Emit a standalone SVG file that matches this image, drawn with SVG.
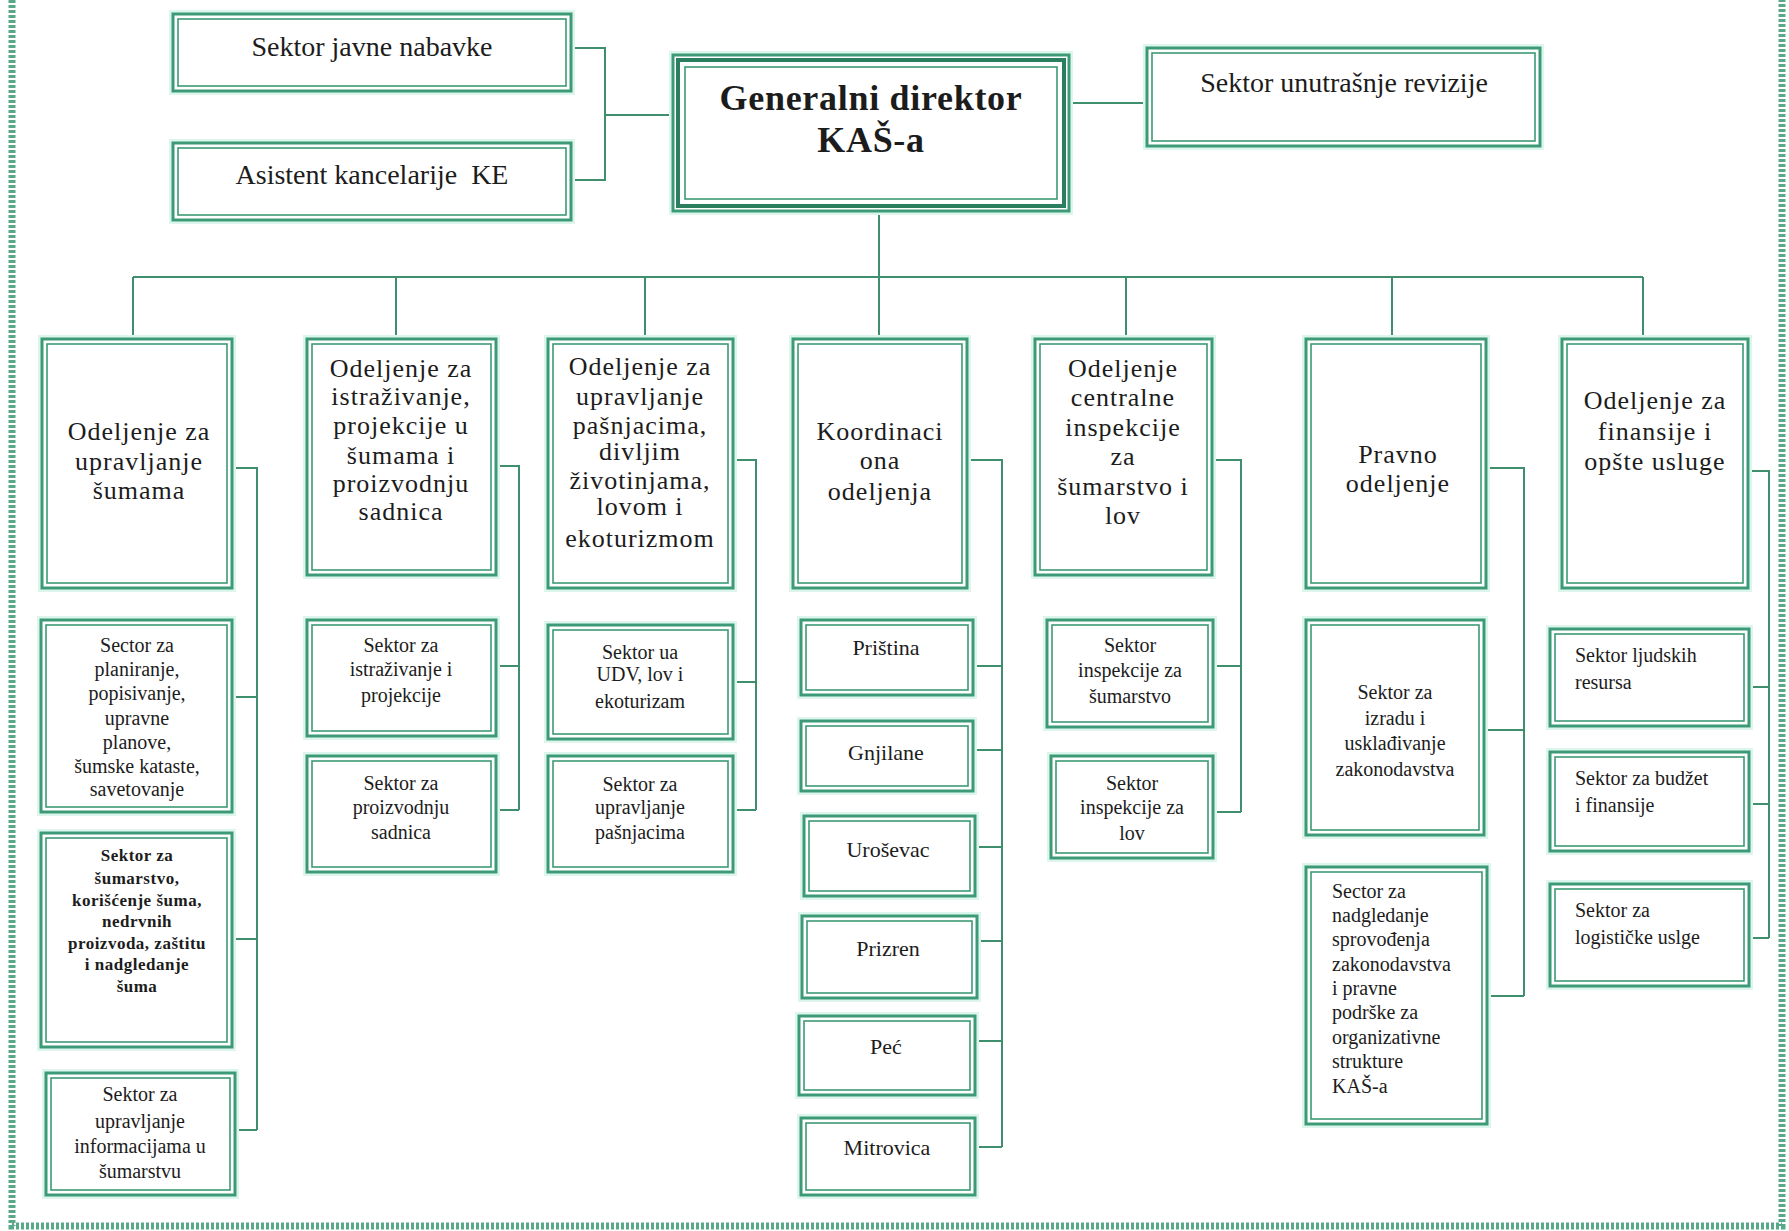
<svg xmlns="http://www.w3.org/2000/svg" width="1789" height="1231" viewBox="0 0 1789 1231">
<style>
.bg{fill:#ffffff}
.frame{fill:none;stroke:#5aa88a;stroke-width:7;stroke-dasharray:3 2}
.g{fill:none;stroke:#dcf6ee;stroke-width:8}
.o{fill:#ffffff;stroke:#3d9a76;stroke-width:3}
.i{fill:none;stroke:#3d9a76;stroke-width:1.6}
.m{fill:none;stroke:#2c7f5e;stroke-width:4}
.c{fill:none;stroke:#3f8f6f;stroke-width:2}
text{font-family:"Liberation Serif","Times New Roman",serif;fill:#1c1c1c;text-anchor:middle}
.t1{font-size:28px}
.t0{font-size:36px;font-weight:bold;letter-spacing:0.7px}
.t2{font-size:26px;letter-spacing:1px}
.t3{font-size:20px}
.t4{font-size:17px;font-weight:bold;letter-spacing:0.5px}
.t5{font-size:22px}
.l{text-anchor:start}
</style>
<rect class="bg" x="0" y="0" width="1789" height="1231"/>
<path class="frame" d="M12,0V1226H1782V0"/>

<g id="connectors">
<path class="c" d="M571,48H605V180H571M605,115H673"/>
<path class="c" d="M1069,103H1147"/>
<path class="c" d="M879,211V277M133,277H1643M133,277V339M396,277V339M645,277V339M879,277V339M1126,277V339M1392,277V339M1643,277V339"/>
<path class="c" d="M232,468H257V1130M232,697H257M232,939H257M235,1130H257"/>
<path class="c" d="M496,466H519V810M496,666H519M496,810H519"/>
<path class="c" d="M733,460H756V810M733,682H756M733,810H756"/>
<path class="c" d="M967,460H1002V1147M973,666H1002M973,750H1002M975,847H1002M977,941H1002M975,1041H1002M975,1147H1002"/>
<path class="c" d="M1212,460H1241V812M1213,666H1241M1213,812H1241"/>
<path class="c" d="M1486,468H1524V996M1484,730H1524M1487,996H1524"/>
<path class="c" d="M1748,471H1769V938M1749,687H1769M1749,804H1769M1749,938H1769"/>
</g>

<g id="n-javne">
<rect class="g" x="173" y="14" width="398" height="77"/><rect class="o" x="173" y="14" width="398" height="77"/><rect class="i" x="178" y="19" width="388" height="67"/>
<text class="t1" x="372" y="56">Sektor javne nabavke</text>
</g>
<g id="n-asistent">
<rect class="g" x="173" y="143" width="398" height="77"/><rect class="o" x="173" y="143" width="398" height="77"/><rect class="i" x="178" y="148" width="388" height="67"/>
<text class="t1" x="372" y="184">Asistent kancelarije&#160; KE</text>
</g>
<g id="n-direktor">
<rect class="g" x="673" y="55" width="396" height="156"/><rect class="o" x="673" y="55" width="396" height="156"/><rect class="m" x="678" y="60" width="386" height="146"/><rect class="i" x="685" y="67" width="372" height="132"/>
<text class="t0" x="871" y="110">Generalni direktor</text>
<text class="t0" x="871" y="152">KAŠ-a</text>
</g>
<g id="n-revizija">
<rect class="g" x="1147" y="48" width="393" height="98"/><rect class="o" x="1147" y="48" width="393" height="98"/><rect class="i" x="1152" y="53" width="383" height="88"/>
<text class="t1" x="1344" y="92">Sektor unutrašnje revizije</text>
</g>

<g id="n-sume">
<rect class="g" x="42" y="339" width="190" height="249"/><rect class="o" x="42" y="339" width="190" height="249"/><rect class="i" x="47" y="344" width="180" height="239"/>
<text class="t2" x="139"><tspan x="139" y="440">Odeljenje za</tspan><tspan x="139" y="470">upravljanje</tspan><tspan x="139" y="499">šumama</tspan></text>
</g>
<g id="n-istrazivanje">
<rect class="g" x="307" y="339" width="189" height="236"/><rect class="o" x="307" y="339" width="189" height="236"/><rect class="i" x="312" y="344" width="179" height="226"/>
<text class="t2" x="401"><tspan x="401" y="377">Odeljenje za</tspan><tspan x="401" y="405">istraživanje,</tspan><tspan x="401" y="434">projekcije u</tspan><tspan x="401" y="464">šumama i</tspan><tspan x="401" y="492">proizvodnju</tspan><tspan x="401" y="520">sadnica</tspan></text>
</g>
<g id="n-pasnjaci">
<rect class="g" x="548" y="339" width="185" height="249"/><rect class="o" x="548" y="339" width="185" height="249"/><rect class="i" x="553" y="344" width="175" height="239"/>
<text class="t2" x="640"><tspan x="640" y="375">Odeljenje za</tspan><tspan x="640" y="405">upravljanje</tspan><tspan x="640" y="434">pašnjacima,</tspan><tspan x="640" y="460">divljim</tspan><tspan x="640" y="489">životinjama,</tspan><tspan x="640" y="515">lovom i</tspan><tspan x="640" y="547">ekoturizmom</tspan></text>
</g>
<g id="n-koordinaciona">
<rect class="g" x="793" y="339" width="174" height="249"/><rect class="o" x="793" y="339" width="174" height="249"/><rect class="i" x="798" y="344" width="164" height="239"/>
<text class="t2" x="880"><tspan x="880" y="440">Koordinaci</tspan><tspan x="880" y="469">ona</tspan><tspan x="880" y="500">odeljenja</tspan></text>
</g>
<g id="n-inspekcija">
<rect class="g" x="1035" y="339" width="177" height="236"/><rect class="o" x="1035" y="339" width="177" height="236"/><rect class="i" x="1040" y="344" width="167" height="226"/>
<text class="t2" x="1123"><tspan x="1123" y="377">Odeljenje</tspan><tspan x="1123" y="406">centralne</tspan><tspan x="1123" y="436">inspekcije</tspan><tspan x="1123" y="465">za</tspan><tspan x="1123" y="495">šumarstvo i</tspan><tspan x="1123" y="524">lov</tspan></text>
</g>
<g id="n-pravno">
<rect class="g" x="1306" y="339" width="180" height="249"/><rect class="o" x="1306" y="339" width="180" height="249"/><rect class="i" x="1311" y="344" width="170" height="239"/>
<text class="t2" x="1398"><tspan x="1398" y="463">Pravno</tspan><tspan x="1398" y="492">odeljenje</tspan></text>
</g>
<g id="n-finansije">
<rect class="g" x="1562" y="339" width="186" height="249"/><rect class="o" x="1562" y="339" width="186" height="249"/><rect class="i" x="1567" y="344" width="176" height="239"/>
<text class="t2" x="1655"><tspan x="1655" y="409">Odeljenje za</tspan><tspan x="1655" y="440">finansije i</tspan><tspan x="1655" y="470">opšte usluge</tspan></text>
</g>

<g id="n-planiranje">
<rect class="g" x="41" y="620" width="191" height="192"/><rect class="o" x="41" y="620" width="191" height="192"/><rect class="i" x="46" y="625" width="181" height="182"/>
<text class="t3" x="137"><tspan x="137" y="652">Sector za</tspan><tspan x="137" y="676">planiranje,</tspan><tspan x="137" y="700">popisivanje,</tspan><tspan x="137" y="725">upravne</tspan><tspan x="137" y="749">planove,</tspan><tspan x="137" y="773">šumske kataste,</tspan><tspan x="137" y="796">savetovanje</tspan></text>
</g>
<g id="n-sumarstvo">
<rect class="g" x="41" y="833" width="191" height="214"/><rect class="o" x="41" y="833" width="191" height="214"/><rect class="i" x="46" y="838" width="181" height="204"/>
<text class="t4" x="137"><tspan x="137" y="861">Sektor za</tspan><tspan x="137" y="884">šumarstvo,</tspan><tspan x="137" y="906">korišćenje šuma,</tspan><tspan x="137" y="927">nedrvnih</tspan><tspan x="137" y="949">proizvoda, zaštitu</tspan><tspan x="137" y="970">i nadgledanje</tspan><tspan x="137" y="992">šuma</tspan></text>
</g>
<g id="n-informacije">
<rect class="g" x="46" y="1073" width="189" height="122"/><rect class="o" x="46" y="1073" width="189" height="122"/><rect class="i" x="51" y="1078" width="179" height="112"/>
<text class="t3" x="140"><tspan x="140" y="1101">Sektor za</tspan><tspan x="140" y="1128">upravljanje</tspan><tspan x="140" y="1153">informacijama u</tspan><tspan x="140" y="1178">šumarstvu</tspan></text>
</g>

<g id="n-istr-proj">
<rect class="g" x="307" y="620" width="189" height="116"/><rect class="o" x="307" y="620" width="189" height="116"/><rect class="i" x="312" y="625" width="179" height="106"/>
<text class="t3" x="401"><tspan x="401" y="652">Sektor za</tspan><tspan x="401" y="676">istraživanje i</tspan><tspan x="401" y="702">projekcije</tspan></text>
</g>
<g id="n-sadnice">
<rect class="g" x="307" y="756" width="189" height="116"/><rect class="o" x="307" y="756" width="189" height="116"/><rect class="i" x="312" y="761" width="179" height="106"/>
<text class="t3" x="401"><tspan x="401" y="790">Sektor za</tspan><tspan x="401" y="814">proizvodnju</tspan><tspan x="401" y="839">sadnica</tspan></text>
</g>

<g id="n-udv">
<rect class="g" x="548" y="625" width="185" height="114"/><rect class="o" x="548" y="625" width="185" height="114"/><rect class="i" x="553" y="630" width="175" height="104"/>
<text class="t3" x="640"><tspan x="640" y="659">Sektor ua</tspan><tspan x="640" y="681">UDV, lov i</tspan><tspan x="640" y="708">ekoturizam</tspan></text>
</g>
<g id="n-upr-pasnjaci">
<rect class="g" x="548" y="756" width="185" height="116"/><rect class="o" x="548" y="756" width="185" height="116"/><rect class="i" x="553" y="761" width="175" height="106"/>
<text class="t3" x="640"><tspan x="640" y="791">Sektor za</tspan><tspan x="640" y="814">upravljanje</tspan><tspan x="640" y="839">pašnjacima</tspan></text>
</g>

<g id="n-pristina">
<rect class="g" x="801" y="620" width="172" height="75"/><rect class="o" x="801" y="620" width="172" height="75"/><rect class="i" x="806" y="625" width="162" height="65"/>
<text class="t5" x="886" y="655">Priština</text>
</g>
<g id="n-gnjilane">
<rect class="g" x="801" y="721" width="172" height="70"/><rect class="o" x="801" y="721" width="172" height="70"/><rect class="i" x="806" y="726" width="162" height="60"/>
<text class="t5" x="886" y="760">Gnjilane</text>
</g>
<g id="n-urosevac">
<rect class="g" x="804" y="816" width="171" height="80"/><rect class="o" x="804" y="816" width="171" height="80"/><rect class="i" x="809" y="821" width="161" height="70"/>
<text class="t5" x="888" y="857">Uroševac</text>
</g>
<g id="n-prizren">
<rect class="g" x="802" y="916" width="175" height="82"/><rect class="o" x="802" y="916" width="175" height="82"/><rect class="i" x="807" y="921" width="165" height="72"/>
<text class="t5" x="888" y="956">Prizren</text>
</g>
<g id="n-pec">
<rect class="g" x="799" y="1016" width="176" height="79"/><rect class="o" x="799" y="1016" width="176" height="79"/><rect class="i" x="804" y="1021" width="166" height="69"/>
<text class="t5" x="886" y="1054">Peć</text>
</g>
<g id="n-mitrovica">
<rect class="g" x="801" y="1118" width="174" height="77"/><rect class="o" x="801" y="1118" width="174" height="77"/><rect class="i" x="806" y="1123" width="164" height="67"/>
<text class="t5" x="887" y="1155">Mitrovica</text>
</g>

<g id="n-insp-sum">
<rect class="g" x="1047" y="620" width="166" height="107"/><rect class="o" x="1047" y="620" width="166" height="107"/><rect class="i" x="1052" y="625" width="156" height="97"/>
<text class="t3" x="1130"><tspan x="1130" y="652">Sektor</tspan><tspan x="1130" y="677">inspekcije za</tspan><tspan x="1130" y="703">šumarstvo</tspan></text>
</g>
<g id="n-insp-lov">
<rect class="g" x="1051" y="756" width="162" height="102"/><rect class="o" x="1051" y="756" width="162" height="102"/><rect class="i" x="1056" y="761" width="152" height="92"/>
<text class="t3" x="1132"><tspan x="1132" y="790">Sektor</tspan><tspan x="1132" y="814">inspekcije za</tspan><tspan x="1132" y="840">lov</tspan></text>
</g>

<g id="n-izrada">
<rect class="g" x="1306" y="620" width="178" height="215"/><rect class="o" x="1306" y="620" width="178" height="215"/><rect class="i" x="1311" y="625" width="168" height="205"/>
<text class="t3" x="1395"><tspan x="1395" y="699">Sektor za</tspan><tspan x="1395" y="725">izradu i</tspan><tspan x="1395" y="750">usklađivanje</tspan><tspan x="1395" y="776">zakonodavstva</tspan></text>
</g>
<g id="n-nadgledanje">
<rect class="g" x="1306" y="867" width="181" height="257"/><rect class="o" x="1306" y="867" width="181" height="257"/><rect class="i" x="1311" y="872" width="171" height="247"/>
<text class="t3 l" x="1332"><tspan x="1332" y="898">Sector za</tspan><tspan x="1332" y="922">nadgledanje</tspan><tspan x="1332" y="946">sprovođenja</tspan><tspan x="1332" y="971">zakonodavstva</tspan><tspan x="1332" y="995">i pravne</tspan><tspan x="1332" y="1019">podrške za</tspan><tspan x="1332" y="1044">organizativne</tspan><tspan x="1332" y="1068">strukture</tspan><tspan x="1332" y="1093">KAŠ-a</tspan></text>
</g>

<g id="n-ljudski">
<rect class="g" x="1550" y="629" width="199" height="97"/><rect class="o" x="1550" y="629" width="199" height="97"/><rect class="i" x="1555" y="634" width="189" height="87"/>
<text class="t3 l" x="1575"><tspan x="1575" y="662">Sektor ljudskih</tspan><tspan x="1575" y="689">resursa</tspan></text>
</g>
<g id="n-budzet">
<rect class="g" x="1550" y="752" width="199" height="99"/><rect class="o" x="1550" y="752" width="199" height="99"/><rect class="i" x="1555" y="757" width="189" height="89"/>
<text class="t3 l" x="1575"><tspan x="1575" y="785">Sektor za budžet</tspan><tspan x="1575" y="812">i finansije</tspan></text>
</g>
<g id="n-logistika">
<rect class="g" x="1550" y="884" width="199" height="102"/><rect class="o" x="1550" y="884" width="199" height="102"/><rect class="i" x="1555" y="889" width="189" height="92"/>
<text class="t3 l" x="1575"><tspan x="1575" y="917">Sektor za</tspan><tspan x="1575" y="944">logističke uslge</tspan></text>
</g>
</svg>
